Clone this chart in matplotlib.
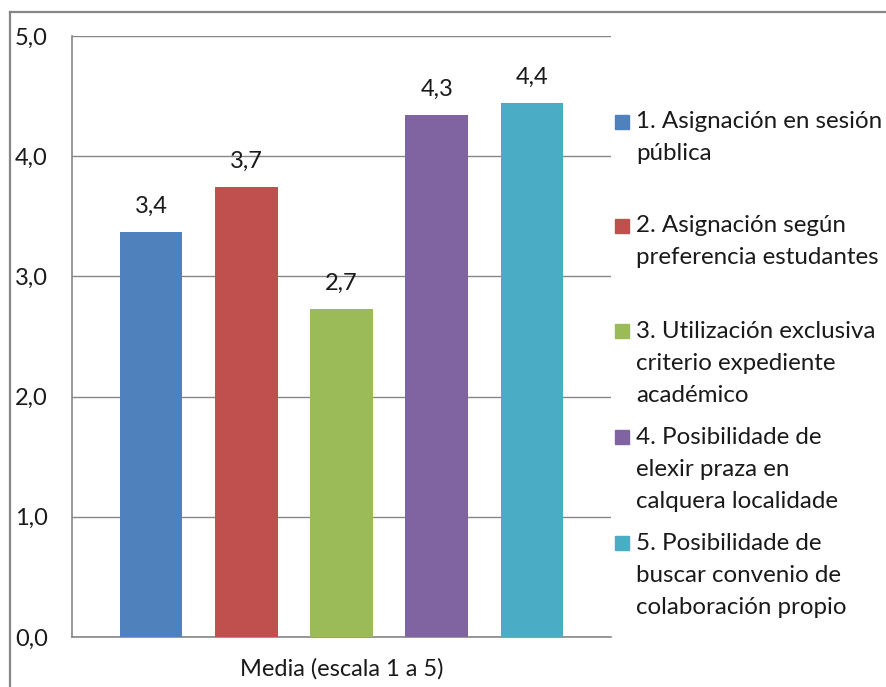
import matplotlib
matplotlib.use("Agg")
import matplotlib.pyplot as plt
from matplotlib.patches import Rectangle
from matplotlib.lines import Line2D

# ---- data ----
categories = [
    "1. Asignación en sesión\npública",
    "2. Asignación según\npreferencia estudantes",
    "3. Utilización exclusiva\ncriterio expediente\nacadémico",
    "4. Posibilidade de\nelexir praza en\ncalquera localidade",
    "5. Posibilidade de\nbuscar convenio de\ncolaboración propio",
]
values = [3.37, 3.74, 2.73, 4.34, 4.44]
colors = ["#4F81BD", "#C0504D", "#9BBB59", "#8064A2", "#4BACC6"]
yticks = [0, 1, 2, 3, 4, 5]
xlabel = "Media (escala 1 a 5)"

W, H = 887, 687
plt.rcParams['font.family'] = ['Lato', 'DejaVu Sans']
fig = plt.figure(figsize=(W / 100, H / 100), dpi=100)
fig.patch.set_facecolor("white")

def fx(px):
    return px / W

def fy(py):
    return 1 - py / H

ax = fig.add_axes([fx(72), fy(637), fx(611) - fx(72), fy(36) - fy(637)])
grey = "#868686"
txt = "#1a1a1a"
fs = 17

x = list(range(len(values)))
bars = ax.bar(x, values, width=0.66, color=colors, zorder=3)
for xi, v in zip(x, values):
    ax.annotate(f"{v:.1f}".replace(".", ","), (xi, v), xytext=(0, 11),
                textcoords="offset points", ha="center", va="bottom",
                fontsize=fs, color=txt)

ax.set_xlim(-0.83, len(values) - 1 + 0.83)
ax.set_ylim(0, 5)
ax.set_yticks(yticks)
ax.set_yticklabels([f"{t:.1f}".replace(".", ",") for t in yticks],
                   fontsize=fs, color=txt, ha="left")
ax.tick_params(axis="y", length=0, pad=41)
ax.set_xticks([])
ax.grid(axis="y", color=grey, linewidth=1.0, zorder=0)
for s in ["top", "right"]:
    ax.spines[s].set_visible(False)
for s in ["left", "bottom"]:
    ax.spines[s].set_color(grey)
    ax.spines[s].set_linewidth(1.2)
ax.set_xlabel(xlabel, fontsize=fs, color=txt, labelpad=15)

# outer frame (cropped chart area)
fig.add_artist(Line2D([fx(10), fx(10)], [fy(12), 0], color=grey, lw=1.6, transform=fig.transFigure))
fig.add_artist(Line2D([fx(10), 1], [fy(12), fy(12)], color=grey, lw=1.6, transform=fig.transFigure))

# legend
entry_y = [122, 226, 331, 437, 543]
line_h = 32
sq = 14
for lab, col, ey in zip(categories, colors, entry_y):
    fig.add_artist(Rectangle((fx(615), fy(ey + sq / 2)), sq / W, sq / H,
                             color=col, transform=fig.transFigure))
    for j, line in enumerate(lab.split("\n")):
        fig.text(fx(636), fy(ey + j * line_h), line, fontsize=17.4, color=txt,
                 ha="left", va="center")

fig.savefig("out.png", dpi=100)
